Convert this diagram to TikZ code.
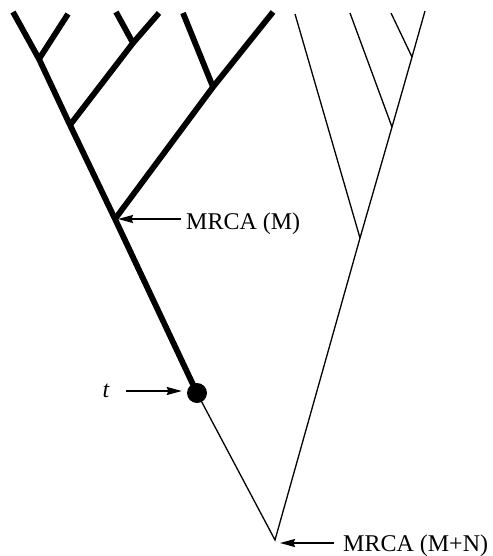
\documentclass[tikz,border=0pt]{standalone}
\usepackage{fontspec}
\setmainfont{Liberation Serif}
\usetikzlibrary{arrows.meta, calc}
\tikzset{
  thickbr/.style={line width=5.8pt, line cap=butt, line join=miter},
  thinbr/.style={line width=1.3pt},
  pointer/.style={-{Stealth[length=15pt, width=8pt, inset=1.5pt]}, line width=1.4pt},
  lbl/.style={font=\fontsize{24}{28}\selectfont, inner sep=0pt},
  tdot/.style={circle, fill=black, minimum size=20pt, inner sep=0pt}
}
\begin{document}
\begin{tikzpicture}[x=1pt, y=-1pt]
  \useasboundingbox (0,0) rectangle (492,556);

  % Tree points
  \coordinate (root) at (275,540);
  \coordinate (tpt) at (197,393);
  \coordinate (mrcaM) at (115,219);
  \coordinate (na) at (39,59);
  \coordinate (nb) at (133,43);
  \coordinate (nc) at (70,125);
  \coordinate (nd) at (213,87);
  \coordinate (ne) at (360,238);
  \coordinate (nf) at (392,127);
  \coordinate (ng) at (412,57);

  % Tips
  \coordinate (m1) at (13,12);
  \coordinate (m2) at (68,14);
  \coordinate (m3) at (116,12);
  \coordinate (m4) at (159,13);
  \coordinate (m5) at (183,13);
  \coordinate (m6) at (273,12);
  \coordinate (n1) at (295,14);
  \coordinate (n2) at (350,13);
  \coordinate (n3) at (391,13);
  \coordinate (n4) at (425,11);

  % Thick subtree (M)
  \draw[thickbr] (m1) -- (na) -- (nc) -- (mrcaM) -- (tpt);
  \draw[thickbr] (m2) -- (na);
  \draw[thickbr] (m4) -- (nb) -- (nc);
  \draw[thickbr] (m3) -- (nb);
  \draw[thickbr] (m6) -- (nd) -- (mrcaM);
  \draw[thickbr] (m5) -- (nd);

  % Thin subtree (N)
  \draw[thinbr] (tpt) -- (root) -- (ne) -- (nf) -- (ng) -- (n4);
  \draw[thinbr] (n1) -- (ne);
  \draw[thinbr] (n2) -- (nf);
  \draw[thinbr] (n3) -- (ng);

  \node[tdot] (dot) at (tpt) {};

  % Labels
  \node[lbl, anchor=base west] (lblM) at (186,229) {MRCA (M)};
  \node[lbl, anchor=base west] (lblR) at (343,551) {MRCA (M+N)};
  \node[lbl, anchor=base east] (lblt) at (110,397) {\textit{t}};

  \draw[pointer] ($(lblM.base west |- mrcaM)+(-5,0)$) -- (mrcaM) [shorten >=3pt];
  \draw[pointer] ($(lblR.base west |- root)+(-9,3)$) -- ($(root)+(0,3)$) [shorten >=5pt];
  \draw[pointer] ($(lblt.base east)+(16,-6)$) -- ($(lblt.base east -| dot.west)+(0,-6)$) [shorten >=5pt];
\end{tikzpicture}
\end{document}
